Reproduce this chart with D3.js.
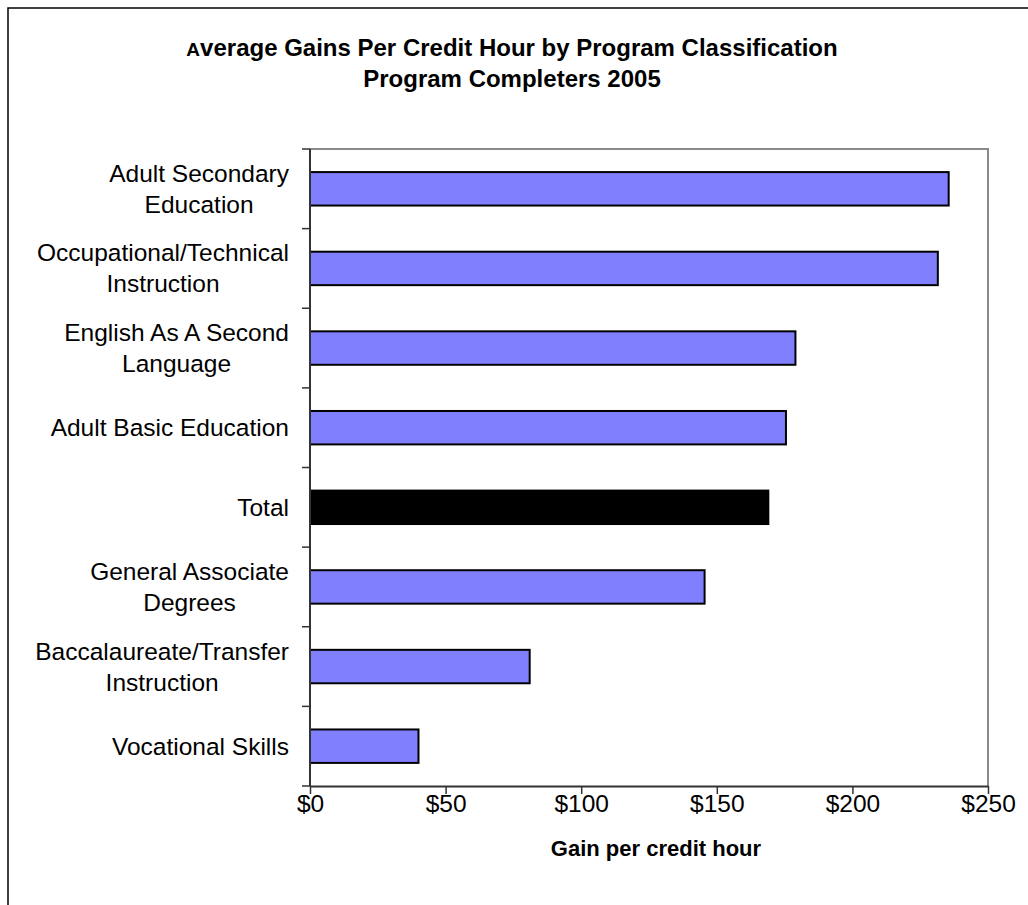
<!DOCTYPE html>
<html>
<head>
<meta charset="utf-8">
<script src="https://cdn.jsdelivr.net/npm/d3@7"></script>
<style>
  html, body { margin: 0; padding: 0; background: #fff; }
  svg { display: block; font-family: "Liberation Sans", Arial, sans-serif; }
</style>
</head>
<body>
<svg id="chart" width="1028" height="905"></svg>
<script>
// Program classifications, top to bottom, split into display lines
const categoryLines = [
  ["Adult Secondary", "Education"],
  ["Occupational/Technical", "Instruction"],
  ["English As A Second", "Language"],
  ["Adult Basic Education"],
  ["Total"],
  ["General Associate", "Degrees"],
  ["Baccalaureate/Transfer", "Instruction"],
  ["Vocational Skills"]
];
const categories = categoryLines.map(l => l.join(" "));

// Average gain per credit hour (dollars)
const gains = [235.5, 231.5, 179, 175.5, 169, 145.5, 81, 40];

const xTicks = [0, 50, 100, 150, 200, 250];
const titleLines = ["Average Gains Per Credit Hour by Program Classification", "Program Completers 2005"];
const xAxisTitle = "Gain per credit hour";

const svg = d3.select("#chart");
const plot = { left: 310, right: 988, top: 149, bottom: 786 };

// Outer chart frame (extends past the right and bottom edges)
svg.append("rect")
  .attr("x", 8).attr("y", 8)
  .attr("width", 1100).attr("height", 1000)
  .attr("fill", "none").attr("stroke", "#000").attr("stroke-width", 1.5);

const x = d3.scaleLinear().domain([0, 250]).range([plot.left, plot.right]);
const y = d3.scaleBand().domain(categories)
  .range([plot.top, plot.bottom])
  .paddingInner(0.58).paddingOuter(0.29);

// Plot area border (top and right in gray)
svg.append("path")
  .attr("d", `M${plot.left},${plot.top}H${plot.right}V${plot.bottom}`)
  .attr("fill", "none").attr("stroke", "#8a8a8a").attr("stroke-width", 2);

// Bars
svg.append("g").selectAll("rect")
  .data(categories)
  .join("rect")
  .attr("x", x(0))
  .attr("y", d => y(d))
  .attr("width", (d, i) => x(gains[i]) - x(0))
  .attr("height", y.bandwidth())
  .attr("fill", d => d === "Total" ? "#000" : "#8080ff")
  .attr("stroke", "#000")
  .attr("stroke-width", 2);

// Bottom axis
const xAxis = svg.append("g")
  .attr("transform", `translate(0,${plot.bottom})`)
  .call(d3.axisBottom(x).tickValues(xTicks).tickFormat(d => "$" + d).tickSize(8).tickPadding(1).tickSizeOuter(0));
xAxis.select(".domain").attr("stroke", "#333").attr("stroke-width", 2);
xAxis.selectAll(".tick line").attr("stroke", "#333").attr("stroke-width", 1.5);
xAxis.selectAll(".tick text")
  .attr("font-size", "24.5px").attr("fill", "#000")
  .attr("font-family", "'Liberation Sans', Arial, sans-serif");

// Left axis line with ticks at category boundaries
const step = y.step();
const bounds = d3.range(categories.length + 1).map(i => plot.top + i * step);
svg.append("line")
  .attr("x1", plot.left).attr("x2", plot.left)
  .attr("y1", plot.top).attr("y2", plot.bottom)
  .attr("stroke", "#333").attr("stroke-width", 2);
svg.append("g").selectAll("line")
  .data(bounds)
  .join("line")
  .attr("x1", plot.left - 8).attr("x2", plot.left)
  .attr("y1", d => d).attr("y2", d => d)
  .attr("stroke", "#333").attr("stroke-width", 1.5);

// Category labels, centred line-by-line, right-aligned as a block
const labelRight = 289;
const lineGap = 31;
const labels = svg.append("g").attr("font-size", "24.5px").attr("fill", "#000");
categoryLines.forEach((lines, i) => {
  const cy = y(categories[i]) + y.bandwidth() / 2;
  const t = labels.append("text").attr("text-anchor", "middle");
  lines.forEach((ln, j) => {
    t.append("tspan").attr("data-line", j).text(ln)
      .attr("y", cy + (j - (lines.length - 1) / 2) * lineGap + 8.5);
  });
  const maxW = d3.max(t.selectAll("tspan").nodes(), n => n.getComputedTextLength());
  t.selectAll("tspan").attr("x", labelRight - maxW / 2);
});

// Title
const title = svg.append("text")
  .attr("x", 512).attr("text-anchor", "middle")
  .attr("font-weight", "bold").attr("font-size", "24px").attr("fill", "#000");
const t1 = title.append("tspan").attr("x", 512).attr("y", 56);
t1.append("tspan").attr("font-size", "19px").text(titleLines[0].charAt(0));
t1.append("tspan").text(titleLines[0].slice(1));
title.append("tspan").attr("x", 512).attr("y", 87).text(titleLines[1]);

// X axis title
svg.append("text")
  .attr("x", 656).attr("y", 856)
  .attr("text-anchor", "middle")
  .attr("font-weight", "bold").attr("font-size", "22px").attr("fill", "#000")
  .text(xAxisTitle);
</script>
</body>
</html>
